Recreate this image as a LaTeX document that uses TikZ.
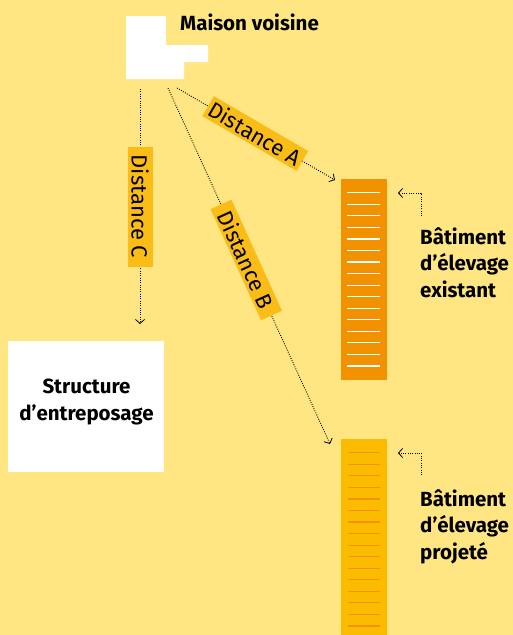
\documentclass[tikz,border=0pt]{standalone}
\usepackage{fontspec}
\setmainfont{Fira Sans}
\usetikzlibrary{arrows.meta}
\definecolor{bgyel}{RGB}{255,230,130}
\definecolor{lblyel}{RGB}{250,188,22}
\definecolor{exorange}{RGB}{243,146,0}
\definecolor{prjyel}{RGB}{251,188,0}
\tikzset{
  dots/.style={draw=black, line width=0.9pt, dash pattern=on 0.9pt off 1.4pt},
  dotarrow/.style={dots, -{Straight Barb[length=4pt,width=9pt,line width=0.8pt]}},
  distlbl/.style={fill=lblyel, inner sep=0pt, minimum height=23pt, font=\fontsize{22}{24}\selectfont},
  title/.style={font=\bfseries\fontsize{20.5}{26.8}\selectfont, align=left, inner sep=0pt},
}
\begin{document}
\begin{tikzpicture}[x=1pt,y=1pt]
\fill[bgyel] (0,0) rectangle (513,-635);
\useasboundingbox (0,0) rectangle (513,-635);
% Maison voisine
\fill[white] (126,-16) -- (166,-16) -- (166,-45) -- (208,-45) -- (208,-62) -- (184,-62) -- (184,-79) -- (126,-79) -- cycle;
\node[title, anchor=base west] (maison) at (180,-30) {Maison voisine};
% start / end points
\coordinate (sC) at (140,-89);
\coordinate (sB) at (168,-88);
\coordinate (sA) at (177,-88);
\coordinate (eC) at (140,-324);
\coordinate (eB) at (330,-444);
\coordinate (eA) at (335,-180);
% Structure
\node[fill=white, minimum width=156pt, minimum height=131pt, inner sep=0pt, anchor=north west] (struct) at (8,-341) {};
\node[title, align=center, anchor=base] (structtxt) at (86.5,-420.7) {Structure\\d’entreposage};
% existing building
\node[fill=exorange, minimum width=46pt, minimum height=201pt, inner sep=0pt, anchor=north west] (exist) at (341,-179) {};
\foreach \i in {0,...,15} {
  \draw[white, line width=1.2pt] (347.3,{-192.7-11.55*\i}) -- (380,{-192.7-11.55*\i});
}
% projected building
\node[fill=prjyel, minimum width=46pt, minimum height=196pt, inner sep=0pt, anchor=north west] (proj) at (341,-439) {};
\foreach \i in {0,...,15} {
  \draw[exorange, line width=1.2pt] (347.7,{-452.7-11.55*\i}) -- (380,{-452.7-11.55*\i});
}
% distances
\draw[dotarrow] (sC) -- node[distlbl, rotate=-90, minimum width=120pt, minimum height=25pt] (dC) {Distance C} (eC);
\draw[dotarrow] (sA) -- node[distlbl, sloped, pos=0.495, minimum width=109pt] (dA) {Distance A} (eA);
\draw[dotarrow] (sB) -- node[distlbl, sloped, pos=0.483, minimum width=122pt] (dB) {Distance B} (eB);
% building labels
\coordinate (exA) at (421,-216);
\coordinate (exT) at (398,-193);
\draw[dotarrow] (exA) |- (exT);
\node[title, anchor=base west] (extxt) at (420,-297.7) {Bâtiment\\d’élevage\\existant};
\coordinate (prA) at (421,-475);
\coordinate (prT) at (398,-453);
\draw[dotarrow] (prA) |- (prT);
\node[title, anchor=base west] (prtxt) at (420,-559.6) {Bâtiment\\d’élevage\\projeté};
\end{tikzpicture}
\end{document}
